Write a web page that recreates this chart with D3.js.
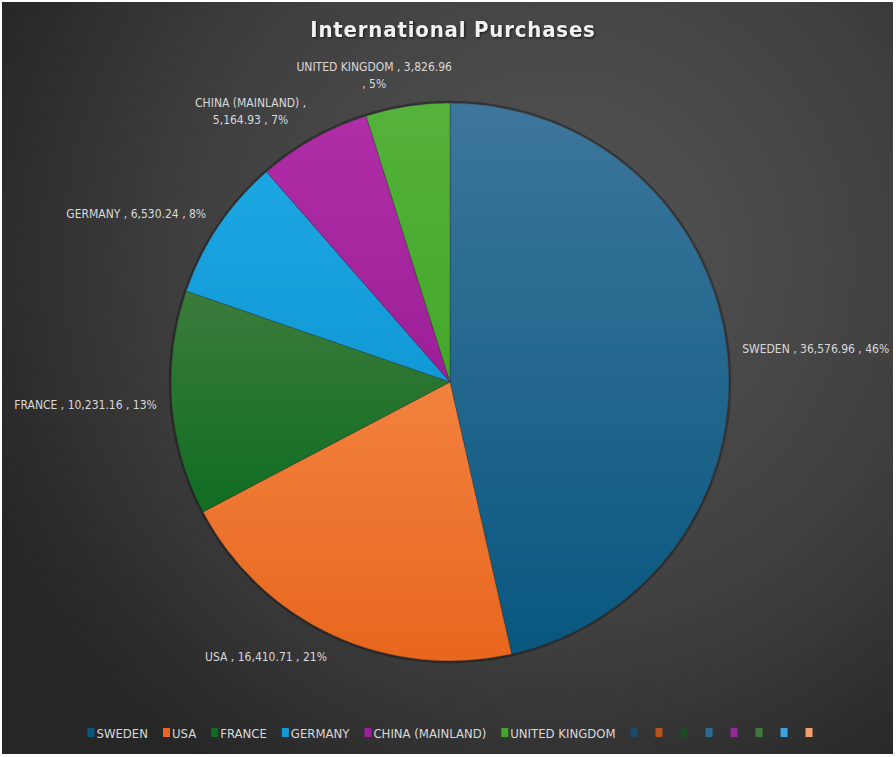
<!DOCTYPE html>
<html>
<head>
<meta charset="utf-8">
<script src="https://cdn.jsdelivr.net/npm/d3@7"></script>
<style>
  body { margin: 0; background: #fff; }
  text { font-family: "DejaVu Sans Condensed", "Liberation Sans Narrow", "Roboto Condensed", Roboto, sans-serif; }
</style>
</head>
<body>
<div class="chart"></div>
<script>
// chart data
var categories = ["SWEDEN", "USA", "FRANCE", "GERMANY", "CHINA (MAINLAND)", "UNITED KINGDOM"];
var purchases = [36576.96, 16410.71, 10231.16, 6530.24, 5164.93, 3826.96];
var sliceTop = ["#3d769c", "#f2823f", "#3b7b3b", "#1ca6e2", "#b02ea8", "#55b23c"];
var sliceBottom = ["#08577f", "#e8661d", "#0f6d21", "#1199d6", "#9c1f97", "#44a72a"];
var labelWrap = [0, 0, 0, 0, 118, 157];   // max label width, 0 = no wrap
// legend also shows eight empty series
var extraLegendColors = ["#1d4a6b", "#b5531c", "#1c4b1f", "#2a6c98", "#962a98", "#3a7a3a", "#3aa3e2", "#f1a070"];

var W = 896, H = 757;
var cx = 450, cy = 382, radius = 279, labelRadius = 294;

var svg = d3.select(".chart").append("svg")
    .attr("width", W)
    .attr("height", H);

var defs = svg.append("defs");

// background gradient
var bg = defs.append("radialGradient")
    .attr("id", "bg")
    .attr("gradientUnits", "userSpaceOnUse")
    .attr("cx", 560).attr("cy", 260).attr("r", 620);
bg.append("stop").attr("offset", "0%").attr("stop-color", "#555555");
bg.append("stop").attr("offset", "60%").attr("stop-color", "#3f3f3f");
bg.append("stop").attr("offset", "100%").attr("stop-color", "#262626");

svg.append("rect")
    .attr("x", 2).attr("y", 2)
    .attr("width", W - 5).attr("height", H - 5)
    .attr("fill", "url(#bg)");

// title
svg.append("text")
    .attr("x", 453).attr("y", 37)
    .attr("text-anchor", "middle")
    .attr("font-size", 22)
    .attr("font-weight", "bold")
    .attr("letter-spacing", 0.8)
    .attr("fill", "#f2f2f2")
    .style("filter", "drop-shadow(1px 1px 1px rgba(0,0,0,0.6))")
    .text("International Purchases");

var data = categories.map(function(c, i) { return {name: c, value: purchases[i], i: i}; });
var total = d3.sum(purchases);

// slice gradients
data.forEach(function(d) {
  var g = defs.append("linearGradient")
      .attr("id", "slice" + d.i)
      .attr("x1", 0).attr("y1", 0).attr("x2", 0).attr("y2", 1);
  g.append("stop").attr("offset", "0%").attr("stop-color", sliceTop[d.i]);
  g.append("stop").attr("offset", "100%").attr("stop-color", sliceBottom[d.i]);
});

var pie = d3.pie()
    .sort(null)
    .value(function(d) { return d.value; });

var arc = d3.arc()
    .innerRadius(0)
    .outerRadius(radius);

var chart = svg.append("g")
    .attr("transform", "translate(" + cx + "," + cy + ")");

// soft shadow ring
chart.append("circle")
    .attr("r", radius + 1)
    .attr("fill", "none")
    .attr("stroke", "rgba(0,0,0,0.3)")
    .attr("stroke-width", 2.5);

chart.selectAll("path.slice")
    .data(pie(data))
  .enter().append("path")
    .attr("class", "slice")
    .attr("d", arc)
    .attr("fill", function(d) { return "url(#slice" + d.data.i + ")"; })
    .attr("stroke", "rgba(40,40,40,0.4)")
    .attr("stroke-width", 0.8);

// data labels
var fmt = d3.format(",.2f");
var labelG = svg.append("g")
    .attr("font-size", 12)
    .attr("fill", "#d9d9d9");

pie(data).forEach(function(d) {
  var txt = d.data.name + " , " + fmt(d.data.value) + " , " + Math.round(d.data.value / total * 100) + "%";
  var words = txt.split(" ");
  var maxW = labelWrap[d.data.i];
  var t = labelG.append("text").attr("text-anchor", "middle");
  var lines = [];
  if (!maxW) {
    lines = [txt];
  } else {
    var cur = "";
    words.forEach(function(w) {
      var test = cur ? cur + " " + w : w;
      t.text(test);
      if (cur && t.node().getComputedTextLength() > maxW) {
        lines.push(cur);
        cur = w;
      } else {
        cur = test;
      }
    });
    lines.push(cur);
  }
  t.text(null);
  var spans = lines.map(function(l) {
    return t.append("tspan").text(l);
  });
  var w = d3.max(spans, function(s) { return s.node().getComputedTextLength(); });
  var lh = 17, h = lines.length * lh;
  var a = (d.startAngle + d.endAngle) / 2;
  var ax = labelRadius * Math.sin(a) + cx,
      ay = -labelRadius * Math.cos(a) + cy;
  var midX;
  if (Math.abs(Math.sin(a)) < 0.35) midX = ax - w * 0.2;
  else if (Math.sin(a) > 0) midX = ax + w / 2;
  else midX = ax - w / 2;
  var midY = ay - Math.cos(a) * h / 2;
  var top = midY - h / 2;
  spans.forEach(function(s, k) {
    s.attr("x", midX).attr("y", top + k * lh + lh / 2 + 4.5);
  });
});

// legend
var legendItems = categories.map(function(c, i) { return {label: c, color: sliceBottom[i]}; })
    .concat(extraLegendColors.map(function(c) { return {label: "", color: c}; }));

var legend = svg.append("g")
    .attr("font-size", 13)
    .attr("fill", "#d9d9d9");

var lx = 0;
legendItems.forEach(function(d) {
  var item = legend.append("g").attr("transform", "translate(" + lx + ",0)");
  item.append("rect")
      .attr("x", 0).attr("y", -5)
      .attr("width", 7).attr("height", 9)
      .attr("fill", d.color);
  var tw = 0;
  if (d.label) {
    var t = item.append("text")
        .attr("x", 9).attr("y", 4.5)
        .text(d.label);
    tw = t.node().getComputedTextLength() + 2;
  }
  lx += 9 + tw + (d.label ? 13 : 16);
});
legend.attr("transform", "translate(" + (451 - (lx - 16) / 2) + ",733)");
</script>
</body>
</html>
